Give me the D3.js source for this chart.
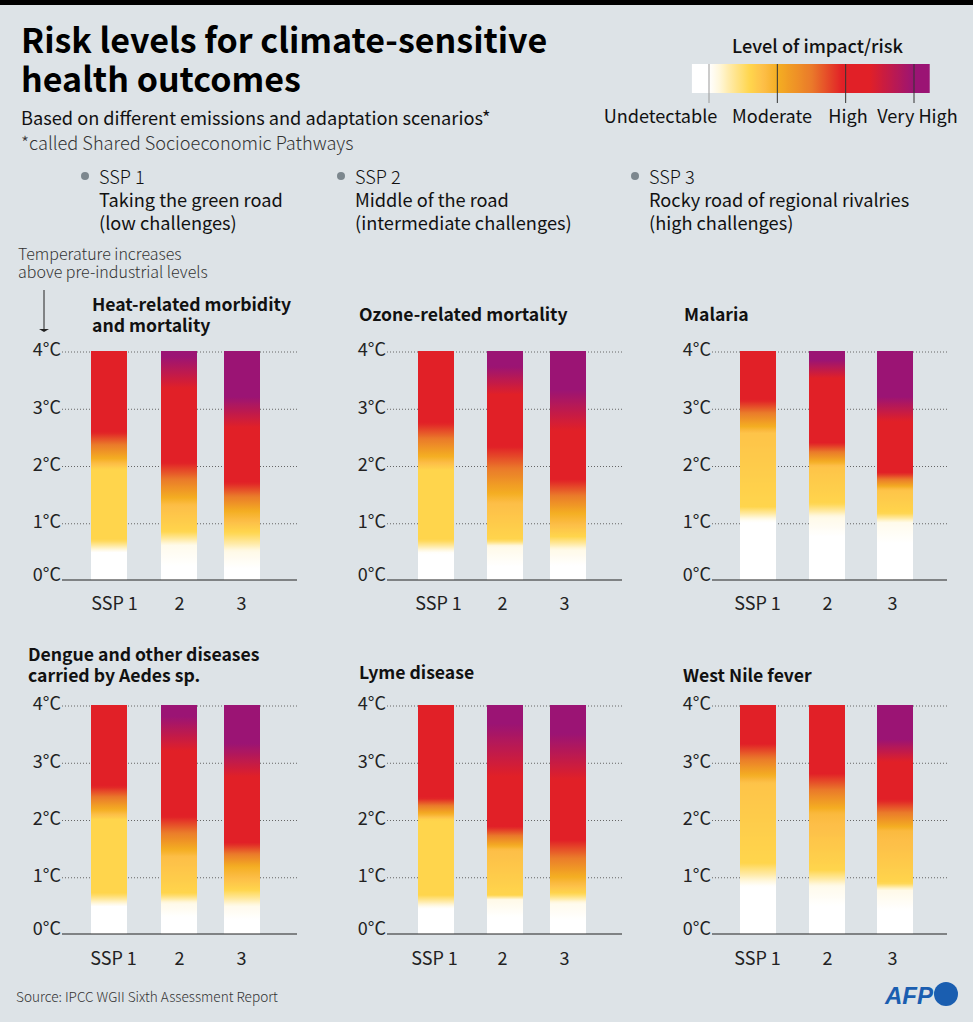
<!DOCTYPE html>
<html>
<head>
<meta charset="utf-8">
<script src="https://cdn.jsdelivr.net/npm/d3@7"></script>
<style>
  html, body { margin: 0; padding: 0; background: #fff; }
  svg { display: block; }
  text { font-family: "Noto Sans CJK JP", "Noto Sans", sans-serif; fill: #111; }
  .light { font-weight: 300; fill: #333; }
  .panel-title { font-size: 17.6px; font-weight: 700; }
  .y-axis text, .x-axis text { font-size: 18px; font-weight: 400; fill: #222; }
</style>
</head>
<body>
<svg id="chart" width="973" height="1024"></svg>
<script>
// data
const titleLines = ["Risk levels for climate-sensitive", "health outcomes"];
const subtitle = "Based on different emissions and adaptation scenarios*";
const footnote = "*called Shared Socioeconomic Pathways";
const scenarioText = [
  ["SSP 1", "Taking the green road", "(low challenges)"],
  ["SSP 2", "Middle of the road", "(intermediate challenges)"],
  ["SSP 3", "Rocky road of regional rivalries", "(high challenges)"],
];
const levelNames = ["Undetectable", "Moderate", "High", "Very High"];
const levelValues = [0, 1, 2, 3];
const tempTicks = [0, 1, 2, 3, 4];
const sspLabels = ["SSP 1", "2", "3"];

// risk level -> colour, shared by legend and bars
const levelStops = [0, 0.15, 0.3, 0.6, 0.8, 1, 1.5, 1.95, 2.35, 3];
const levelColors = ["#ffffff", "#fff7dc", "#ffeba8", "#ffd54c", "#fdbe48", "#f4ae22", "#ea7a2a", "#e12027", "#e12027", "#9b1474"];

// each bar: temperatures and the risk level reached at each one
const heatTemps = [[0, 0.48, 0.7, 1.93, 2.58, 4], [0, 0.25, 0.6, 0.85, 1.3, 2.05, 3.3, 3.9], [0, 0.2, 0.5, 0.8, 1.2, 1.7, 2.62, 3.2]];
const heatLevels = [[0, 0, 0.6, 0.6, 1.95, 2], [0, 0, 0.08, 0.6, 0.8, 1.95, 2.3, 3], [0, 0, 0.1, 0.55, 1, 1.95, 2.3, 3]];
const ozoneTemps = [[0, 0.47, 0.7, 1.92, 2.74, 4], [0, 0.24, 0.59, 0.7, 1.34, 2.33, 3.2, 3.73], [0, 0.25, 0.53, 0.76, 1.17, 1.75, 2.56, 3.32]];
const ozoneLevels = [[0, 0, 0.6, 0.6, 1.95, 2], [0, 0, 0.1, 0.6, 0.8, 1.95, 2.3, 3], [0, 0, 0.1, 0.6, 1, 1.95, 2.3, 3]];
const malariaTemps = [[0, 1.02, 1.28, 2.56, 3.14, 4], [0, 0.76, 1.1, 1.34, 1.98, 2.39, 3.5, 3.84], [0, 0.65, 1, 1.17, 1.57, 1.87, 2.74, 3.2]];
const malariaLevels = [[0, 0, 0.6, 0.75, 1.95, 2], [0, 0, 0.1, 0.6, 0.75, 1.95, 2.3, 3], [0, 0, 0.08, 0.6, 0.75, 1.95, 2.3, 3]];
const dengueTemps = [[0, 0.48, 0.71, 2.0, 2.58, 4], [0, 0.3, 0.54, 0.71, 1.35, 2.05, 3.15, 3.8], [0, 0.25, 0.48, 0.77, 1.18, 1.59, 2.7, 3.33]];
const dengueLevels = [[0, 0, 0.6, 0.6, 1.95, 2], [0, 0, 0.1, 0.6, 0.8, 1.95, 2.3, 3], [0, 0, 0.08, 0.6, 1, 1.95, 2.3, 3]];
const lymeTemps = [[0, 0.45, 0.68, 1.99, 2.37, 4], [0, 0.3, 0.6, 0.68, 1.47, 1.87, 2.68, 3.67], [0, 0.25, 0.54, 0.71, 1, 1.64, 2.63, 3.5]];
const lymeLevels = [[0, 0, 0.6, 0.6, 1.95, 2], [0, 0, 0.1, 0.6, 0.8, 1.95, 2.3, 3], [0, 0, 0.08, 0.6, 1, 1.95, 2.3, 3]];
const nileTemps = [[0, 0.83, 1.24, 2.63, 3.32, 4], [0, 0.48, 0.83, 1.12, 2.1, 2.8, 4], [0, 0.42, 0.77, 0.89, 1.8, 2.34, 2.98, 3.4]];
const nileLevels = [[0, 0, 0.6, 0.75, 1.95, 2], [0, 0, 0.08, 0.6, 0.85, 1.95, 2.1], [0, 0, 0.1, 0.6, 0.85, 1.95, 2.3, 3]];

// layout of the six small charts
const COL_A = { left: 62, bars: [91, 161, 224], labels: [114, 179, 241] };
const COL_B = { left: 387, bars: [418, 487, 550], labels: [438, 502, 564] };
const COL_C = { left: 712, bars: [740, 809, 877], labels: [757, 827, 892] };
const panels = [
  { col: COL_A, top: 351, labelGap: 17, title: ["Heat-related morbidity", "and mortality"], titleX: 92, titleY: 311, temps: heatTemps, levels: heatLevels },
  { col: COL_B, top: 351, labelGap: 17, title: ["Ozone-related mortality"], titleX: 359, titleY: 321, temps: ozoneTemps, levels: ozoneLevels },
  { col: COL_C, top: 351, labelGap: 17, title: ["Malaria"], titleX: 684, titleY: 321, temps: malariaTemps, levels: malariaLevels },
  { col: { ...COL_A, labels: [113, 179, 241] }, top: 705, labelGap: 18, title: ["Dengue and other diseases", "carried by Aedes sp."], titleX: 28, titleY: 661, temps: dengueTemps, levels: dengueLevels },
  { col: { ...COL_B, labels: [434, 502, 564] }, top: 705, labelGap: 18, title: ["Lyme disease"], titleX: 359, titleY: 679, temps: lymeTemps, levels: lymeLevels },
  { col: COL_C, top: 705, labelGap: 18, title: ["West Nile fever"], titleX: 683, titleY: 682, temps: nileTemps, levels: nileLevels },
];

const PLOT_HEIGHT = 229;
const PLOT_WIDTH = 235;
const BAR_WIDTH = 36;

const svg = d3.select("#chart");
const defs = svg.append("defs");
const levelColor = d3.scaleLinear().domain(levelStops).range(levelColors).clamp(true);

// background
svg.append("rect").attr("width", 973).attr("height", 1022).attr("fill", "#dde3e7");
svg.append("rect").attr("width", 973).attr("height", 5).attr("fill", "#000");

// headline block
svg.selectAll(".title").data(titleLines).join("text")
  .attr("class", "title")
  .attr("x", 21)
  .attr("y", (d, i) => 53 + i * 39)
  .attr("font-size", 34)
  .attr("font-weight", 700)
  .style("fill", "#000")
  .text((d) => d);
svg.append("text").attr("x", 21).attr("y", 125).attr("font-size", 18.2).text(subtitle);
svg.append("text").attr("class", "light").attr("x", 21).attr("y", 150).attr("font-size", 18.2).text(footnote);

// scenario descriptions
const scenarioX = d3.scaleOrdinal().domain([0, 1, 2]).range([99, 355, 649]);
const scenario = svg.selectAll(".scenario").data(scenarioText).join("g")
  .attr("class", "scenario")
  .attr("transform", (d, i) => `translate(${scenarioX(i)},0)`);
scenario.append("circle").attr("cx", -14).attr("cy", 176).attr("r", 4).attr("fill", "#7c878e");
scenario.selectAll("text").data((d) => d).join("text")
  .attr("y", (d, i) => 183.5 + i * 23)
  .attr("font-size", 18.2)
  .attr("font-weight", (d, i) => (i === 0 ? 300 : 400))
  .text((d) => d);

// legend
const legendX = d3.scaleLinear().domain([0, 3]).range([709, 914]);
const legendDomain = [-0.25, 3.23];
const legendGrad = defs.append("linearGradient").attr("id", "legend-grad");
d3.range(legendDomain[0], legendDomain[1], 0.04).forEach((lv) => {
  legendGrad.append("stop")
    .attr("offset", (lv - legendDomain[0]) / (legendDomain[1] - legendDomain[0]))
    .attr("stop-color", levelColor(lv));
});
svg.append("text").attr("x", 817.5).attr("y", 53).attr("text-anchor", "middle")
  .attr("font-size", 18.2).attr("font-weight", 500).text("Level of impact/risk");
svg.append("rect")
  .attr("x", legendX(legendDomain[0]))
  .attr("y", 64)
  .attr("width", legendX(legendDomain[1]) - legendX(legendDomain[0]))
  .attr("height", 29)
  .attr("fill", "url(#legend-grad)");
svg.selectAll(".legend-tick").data(levelValues).join("line")
  .attr("class", "legend-tick")
  .attr("x1", legendX).attr("x2", legendX)
  .attr("y1", 64).attr("y2", 103)
  .attr("stroke", (d) => (d === 0 ? "#999" : "#333"))
  .attr("stroke-width", 1);
const legendLabelX = d3.scaleOrdinal().domain(levelValues).range([660.5, 772, 848, 917.5]);
svg.selectAll(".legend-label").data(levelValues).join("text")
  .attr("class", "legend-label")
  .attr("x", legendLabelX)
  .attr("y", 123)
  .attr("text-anchor", "middle")
  .attr("font-size", 18.1)
  .text((d) => levelNames[d]);

// temperature note
["Temperature increases", "above pre-industrial levels"].forEach((line, i) => {
  svg.append("text").attr("class", "light")
    .attr("x", 18).attr("y", 260 + i * 18).attr("font-size", 16).text(line);
});
svg.append("line").attr("x1", 44).attr("x2", 44).attr("y1", 290).attr("y2", 330)
  .attr("stroke", "#222").attr("stroke-width", 1);
svg.append("path").attr("d", d3.line()([[39, 329], [49, 329], [44, 332]])).attr("fill", "#222");

// small charts
panels.forEach((p, pi) => {
  const y = d3.scaleLinear().domain([0, 4]).range([p.top + PLOT_HEIGHT, p.top]);
  const barX = d3.scaleOrdinal().domain(sspLabels).range(p.col.bars);
  const labelX = d3.scaleOrdinal().domain(sspLabels).range(p.col.labels);
  const g = svg.append("g");

  g.selectAll(".panel-title").data(p.title).join("text")
    .attr("class", "panel-title")
    .attr("x", p.titleX)
    .attr("y", (d, i) => p.titleY + i * 21)
    .text((d) => d);

  // dotted guides behind the bars
  g.selectAll(".guide").data(tempTicks.slice(1)).join("line")
    .attr("class", "guide")
    .attr("x1", p.col.left).attr("x2", p.col.left + PLOT_WIDTH)
    .attr("y1", (d) => y(d) + 1).attr("y2", (d) => y(d) + 1)
    .attr("stroke", "#666").attr("stroke-width", 1).attr("stroke-dasharray", "1 2");

  sspLabels.forEach((ssp, bi) => {
    const tempToLevel = d3.scaleLinear().domain(p.temps[bi]).range(p.levels[bi]).clamp(true);
    const id = `bar-${pi}-${bi}`;
    const grad = defs.append("linearGradient").attr("id", id)
      .attr("x1", 0).attr("x2", 0).attr("y1", 1).attr("y2", 0);
    d3.range(0, 4.001, 0.04).forEach((t) => {
      grad.append("stop").attr("offset", t / 4).attr("stop-color", levelColor(tempToLevel(t)));
    });
    g.append("rect")
      .attr("x", barX(ssp))
      .attr("y", y(4))
      .attr("width", BAR_WIDTH)
      .attr("height", y(0) - y(4))
      .attr("fill", `url(#${id})`);
  });

  // baseline
  g.append("line")
    .attr("x1", p.col.left).attr("x2", p.col.left + PLOT_WIDTH)
    .attr("y1", y(0)).attr("y2", y(0))
    .attr("stroke", "#222").attr("stroke-width", 1.2);

  const yAxis = g.append("g").attr("class", "y-axis")
    .attr("transform", `translate(${p.col.left - 1},-1)`)
    .call(d3.axisLeft(y).tickValues(tempTicks).tickSize(0).tickPadding(0).tickFormat((d) => `${d}°C`));
  yAxis.select(".domain").remove();
  // the 0°C label sits a little higher, clear of the baseline
  yAxis.selectAll(".tick").filter((d) => d === 0).select("text").attr("dy", "0.1em");

  const xAxis = g.append("g").attr("class", "x-axis")
    .attr("transform", `translate(0,${y(0) + p.labelGap})`)
    .call(d3.axisBottom(labelX).tickSize(0).tickPadding(0));
  xAxis.select(".domain").remove();
});

// footer
svg.append("text").attr("class", "light").attr("x", 16).attr("y", 1002).attr("font-size", 13.6)
  .text("Source: IPCC WGII Sixth Assessment Report");
svg.append("text").attr("x", 885).attr("y", 1004)
  .style("font-family", "'Liberation Sans'").style("fill", "#1a5eb0")
  .attr("font-size", 24).attr("font-weight", 700).attr("font-style", "italic")
  .text("AFP");
svg.append("circle").attr("cx", 946).attr("cy", 994).attr("r", 12).attr("fill", "#1a5eb0");
</script>
</body>
</html>
